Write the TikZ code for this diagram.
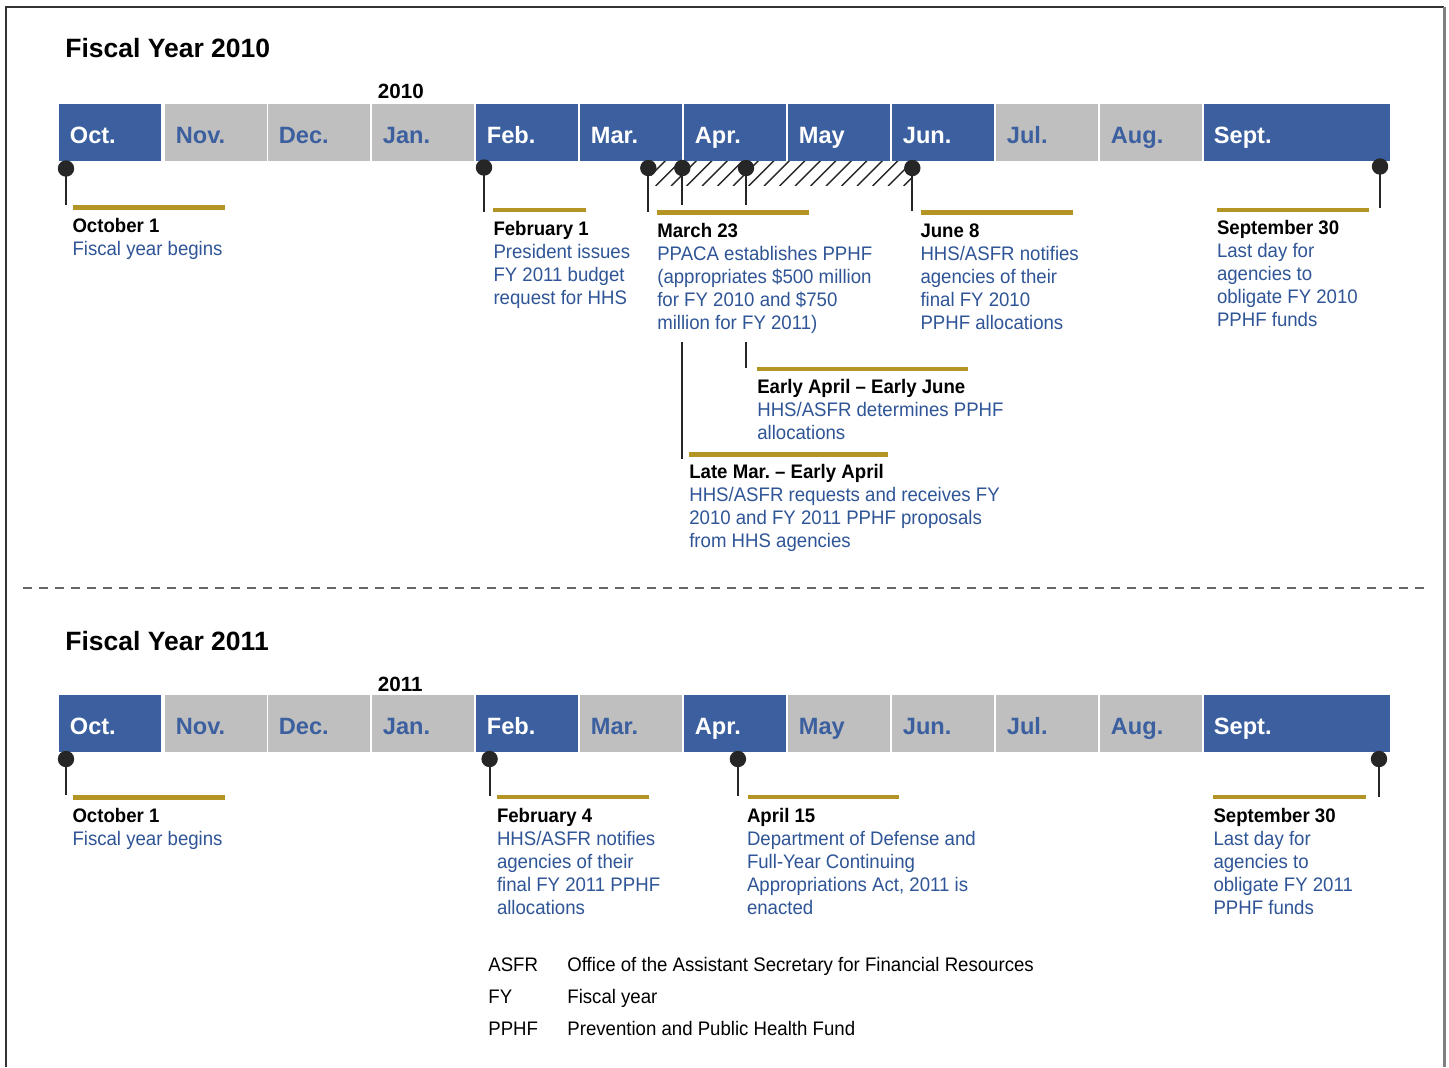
\documentclass[tikz,border=0pt]{standalone}
\usepackage{fontspec}
\setmainfont{Liberation Sans}
\newfontfamily\bodyfont[FakeStretch=0.95]{Liberation Sans}

\definecolor{barblue}{HTML}{3B5F9F}
\definecolor{bargray}{HTML}{BFBFBF}
\definecolor{textblue}{HTML}{2F5597}
\definecolor{goldline}{HTML}{B59426}
\definecolor{pindark}{HTML}{262626}
\definecolor{framedark}{HTML}{333333}
\definecolor{framegray}{HTML}{808080}
\definecolor{dashgray}{HTML}{666666}

% event text: bold heading, then blue description lines
\newcommand\evt[2]{\parbox[t]{200pt}{\bodyfont\fontsize{9.8pt}{11.5pt}\selectfont\frenchspacing\raggedright
  \textbf{#1}\par\color{textblue}#2}}

\tikzset{
  yeartitle/.style={anchor=base west, inner sep=0pt, font=\fontsize{13.25pt}{15pt}\selectfont\bfseries},
  yearlab/.style={anchor=base west, inner sep=0pt, font=\fontsize{10.3pt}{12pt}\selectfont\bfseries},
  monthlab/.style={anchor=base west, inner sep=0pt, font=\fontsize{11.8pt}{14pt}\selectfont\bfseries},
  evtnode/.style={anchor=base west, inner sep=0pt, outer sep=0pt},
  legnode/.style={anchor=base west, inner sep=0pt, font=\bodyfont\fontsize{9.8pt}{11.5pt}\selectfont},
  pindot/.style={circle, fill=pindark, inner sep=0pt, minimum size=8.2pt},
  stem/.style={draw=pindark, line width=1.05pt},
  goldbar/.style={draw=goldline, line width=2.3pt},
  hatchline/.style={draw=pindark, line width=0.7pt},
  sepline/.style={draw=dashgray, line width=1pt, dash pattern=on 4.5pt off 3.5pt},
}

\begin{document}
\begin{tikzpicture}[x=0.5pt, y=-0.5pt]
\useasboundingbox (0,0) rectangle (1449,1067);
\fill[white] (0,0) rectangle (1449,1067);

% outer frame
\draw[framedark, line width=0.8pt] (6,1067) -- (6,7) -- (1444,7);
\draw[framegray, line width=1.6pt] (1444.5,6.5) -- (1444.5,1067);

% ---------------- Fiscal Year 2010 ----------------
\node[yeartitle] (t10) at (65,57.3) {Fiscal Year 2010};
\node[yearlab] (y10) at (377.5,98.5) {2010};

\foreach \L/\m/\fc/\tc in {59/Oct./barblue/white, 165/Nov./bargray/barblue,
    268/Dec./bargray/barblue, 372/Jan./bargray/barblue, 476/Feb./barblue/white,
    580/Mar./barblue/white, 684/Apr./barblue/white, 788/May/barblue/white,
    892/Jun./barblue/white, 996/Jul./bargray/barblue, 1100/Aug./bargray/barblue}{
  \fill[fill=\fc] (\L,104) rectangle ++(101.5,56.5);
  \node[monthlab, text=\tc] (a\L) at ({\L+10.5},143) {\m};
}
\fill[barblue] (1204,104) rectangle (1390,160.5);
\node[monthlab, text=white] (a1204) at (1213.5,143) {Sept.};

% hatched span under Mar.--Jun.
\begin{scope}
  \clip (651,161) rectangle (913,185);
  \foreach \i in {0,...,18}
    \draw[hatchline] ({640+15.5*\i},186) -- ++(26,-26);
\end{scope}

% gold rules above the event texts
\draw[goldbar] (72.7,207.3) -- (225,207.3);
\draw[goldbar] (493.3,210) -- (586,210);
\draw[goldbar] (657.3,212.7) -- (809.3,212.7);
\draw[goldbar] (920.7,212.7) -- (1072.7,212.7);
\draw[goldbar] (1217.3,210) -- (1369.3,210);
\draw[goldbar] (757.3,369) -- (968.3,369);
\draw[goldbar] (689.3,454.3) -- (888.3,454.3);

% event texts
\node[evtnode] (e10a) at (72.5,232) {\evt{October 1}{Fiscal year begins}};
\node[evtnode] (e10b) at (493.5,235) {\evt{February 1}{President issues\\FY 2011 budget\\request for HHS}};
\node[evtnode] (e10c) at (657.3,237) {\evt{March 23}{PPACA establishes PPHF\\(appropriates \$500 million\\for FY 2010 and \$750\\million for FY 2011)}};
\node[evtnode] (e10d) at (920.5,237) {\evt{June 8}{HHS/ASFR notifies\\agencies of their\\final FY 2010\\PPHF allocations}};
\node[evtnode] (e10e) at (1217,234) {\evt{September 30}{Last day for\\agencies to\\obligate FY 2010\\PPHF funds}};
\node[evtnode] (e10f) at (757.3,393) {\evt{Early April – Early June}{HHS/ASFR determines PPHF\\allocations}};
\node[evtnode] (e10g) at (689.3,478) {\evt{Late Mar. – Early April}{HHS/ASFR requests and receives FY\\2010 and FY 2011 PPHF proposals\\from HHS agencies}};

% pins
\coordinate (s10a) at (66,205);
\coordinate (s10b) at (484,211.7);
\coordinate (s10c) at (648.3,211.7);
\coordinate (s10d) at (682.3,205);
\coordinate (s10e) at (746,205);
\coordinate (s10f) at (912.3,210.7);
\coordinate (s10g) at (1380,208.3);
\coordinate (r1a) at (682.3,342);
\coordinate (r1b) at (682.3,458.5);
\coordinate (r2a) at (746,342);
\coordinate (r2b) at (746,368);

\node[pindot] (p10a) at (66,168.5) {};
\node[pindot] (p10b) at (484,167.5) {};
\node[pindot] (p10c) at (648.3,168) {};
\node[pindot] (p10d) at (682.3,168) {};
\node[pindot] (p10e) at (746,168) {};
\node[pindot] (p10f) at (912.3,168) {};
\node[pindot] (p10g) at (1380,166.5) {};

\draw[stem] (p10a.center) -- (s10a);
\draw[stem] (p10b.center) -- (s10b);
\draw[stem] (p10c.center) -- (s10c);
\draw[stem] (p10d.center) -- (s10d);
\draw[stem] (p10e.center) -- (s10e);
\draw[stem] (p10f.center) -- (s10f);
\draw[stem] (p10g.center) -- (s10g);
\draw[stem] (r1a) -- (r1b);
\draw[stem] (r2a) -- (r2b);

% separator between the two years
\draw[sepline] (23,588.3) -- (1425,588.3);

% ---------------- Fiscal Year 2011 ----------------
\node[yeartitle] (t11) at (65,650.7) {Fiscal Year 2011};
\node[yearlab] (y11) at (377.5,691.7) {2011};

\foreach \L/\m/\fc/\tc in {59/Oct./barblue/white, 165/Nov./bargray/barblue,
    268/Dec./bargray/barblue, 372/Jan./bargray/barblue, 476/Feb./barblue/white,
    580/Mar./bargray/barblue, 684/Apr./barblue/white, 788/May/bargray/barblue,
    892/Jun./bargray/barblue, 996/Jul./bargray/barblue, 1100/Aug./bargray/barblue}{
  \fill[fill=\fc] (\L,695) rectangle ++(101.5,56.5);
  \node[monthlab, text=\tc] (b\L) at ({\L+10.5},734) {\m};
}
\fill[barblue] (1204,695) rectangle (1390,751.5);
\node[monthlab, text=white] (b1204) at (1213.5,734) {Sept.};

\draw[goldbar] (72.7,797.3) -- (225,797.3);
\draw[goldbar] (496.8,797) -- (648.6,797);
\draw[goldbar] (747.5,797) -- (898.6,797);
\draw[goldbar] (1213.3,797) -- (1365.7,797);

\node[evtnode] (e11a) at (72.5,822) {\evt{October 1}{Fiscal year begins}};
\node[evtnode] (e11b) at (497,822) {\evt{February 4}{HHS/ASFR notifies\\agencies of their\\final FY 2011 PPHF\\allocations}};
\node[evtnode] (e11c) at (747,822) {\evt{April 15}{Department of Defense and\\Full-Year Continuing\\Appropriations Act, 2011 is\\enacted}};
\node[evtnode] (e11d) at (1213.5,822.5) {\evt{September 30}{Last day for\\agencies to\\obligate FY 2011\\PPHF funds}};

\coordinate (s11a) at (66,795);
\coordinate (s11b) at (489.6,796);
\coordinate (s11c) at (737.9,795.5);
\coordinate (s11d) at (1379,796.7);

\node[pindot] (p11a) at (66,759) {};
\node[pindot] (p11b) at (489.6,759) {};
\node[pindot] (p11c) at (737.9,759) {};
\node[pindot] (p11d) at (1379,759) {};

\draw[stem] (p11a.center) -- (s11a);
\draw[stem] (p11b.center) -- (s11b);
\draw[stem] (p11c.center) -- (s11c);
\draw[stem] (p11d.center) -- (s11d);

% abbreviations
\node[legnode] (k1) at (488,971) {ASFR};
\node[legnode] (d1) at (567,971) {Office of the Assistant Secretary for Financial Resources};
\node[legnode] (k2) at (488,1003) {FY};
\node[legnode] (d2) at (567,1003) {Fiscal year};
\node[legnode] (k3) at (488,1035) {PPHF};
\node[legnode] (d3) at (567,1035) {Prevention and Public Health Fund};

\end{tikzpicture}
\end{document}
